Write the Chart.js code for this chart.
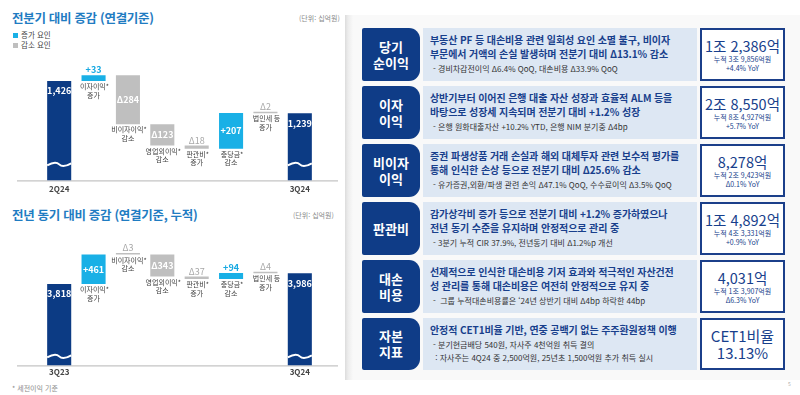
<!DOCTYPE html>
<html lang="ko">
<head>
<meta charset="utf-8">
<script src="https://cdn.jsdelivr.net/npm/chart.js@4.4.1/dist/chart.umd.min.js"></script>
<style>
  html, body { margin: 0; padding: 0; }
  body { width: 800px; height: 395px; position: relative; overflow: hidden; background: #fff;
         font-family: 'Noto Sans CJK KR', 'Noto Sans', sans-serif; color: #333; }
  .abs { position: absolute; }
  .title { font-size: 12.5px; font-weight: 700; color: #1f7cc2; white-space: nowrap; letter-spacing: -0.3px; }
  .unit { font-size: 7px; color: #8a8a8a; white-space: nowrap; }
  .legend { font-size: 7.5px; color: #444; line-height: 10px; }
  .legend i { display: inline-block; width: 5px; height: 5px; margin-right: 3px; vertical-align: 0px; }
  canvas { position: absolute; left: 0; }
  .panel { left: 345px; top: 15px; width: 455px; height: 365px; background: #f9f9f9;
           background-image: linear-gradient(to right, #dcdcdc 0px, #ececec 3px, #f9f9f9 8px); }
  .row { position: absolute; left: 362px; height: 53px; width: 423px; }
  .lab { position: absolute; left: 0; top: 0; width: 58px; height: 100%; background: #0f3c87;
         border-radius: 2px 11px 11px 2px; color: #fff; font-weight: 700; font-size: 13px; line-height: 16px;
         display: flex; align-items: center; justify-content: center; text-align: center; }
  .txt { position: absolute; left: 61px; top: 0; width: 274px; height: 100%; background: #dde7f3; box-sizing: border-box;
         padding: 5px 0 0 7px; white-space: nowrap; }
  .txt .m { font-size: 10px; font-weight: 700; color: #183f8c; line-height: 14px; letter-spacing: -0.1px; }
  .txt .s { font-size: 8px; color: #333; line-height: 13px; padding-left: 3px; margin-top: 1px; }
  .val { position: absolute; left: 338px; top: 0; width: 85px; height: 100%; background: #fff; border: 2px solid #1b3f8a;
         box-sizing: border-box; text-align: center; color: #183f8c; display: flex; flex-direction: column;
         justify-content: center; }
  .val .v { font-size: 14.5px; line-height: 17px; }
  .val .vs { font-size: 7px; line-height: 8.5px; margin-top: 1px; }
  .val .big { font-size: 15px; line-height: 17px; }
</style>
</head>
<body>

<div class="abs title" style="left:12px; top:8px;">전분기 대비 증감 (연결기준)</div>
<div class="abs unit" style="left:299px; top:13px;">(단위: 십억원)</div>
<div class="abs legend" style="left:13px; top:30px;"><i style="background:#19b0e6"></i>증가 요인<br><i style="background:#bfbfbf"></i>감소 요인</div>
<canvas id="qoqChart" width="340" height="148" style="top:50px;"></canvas>

<div class="abs title" style="left:12px; top:205px;">전년 동기 대비 증감 (연결기준, 누적)</div>
<div class="abs unit" style="left:293px; top:210px;">(단위: 십억원)</div>
<canvas id="yoyChart" width="340" height="151" style="top:228px;"></canvas>
<div class="abs unit" style="left:12px; top:383px;">* 세전이익 기준</div>

<div class="abs panel"></div>

<div class="row" style="top:28px;">
  <div class="lab">당기<br>순이익</div>
  <div class="txt"><div class="m">부동산 PF 등 대손비용 관련 일회성 요인 소멸 불구, 비이자<br>부문에서 거액의 손실 발생하며 전분기 대비 Δ13.1% 감소</div>
    <div class="s">- 경비차감전이익 Δ6.4% QoQ, 대손비용 Δ33.9% QoQ</div></div>
  <div class="val"><div class="v">1조 2,386억</div><div class="vs">누적 3조 9,856억원<br>+4.4% YoY</div></div>
</div>

<div class="row" style="top:86px;">
  <div class="lab">이자<br>이익</div>
  <div class="txt"><div class="m">상반기부터 이어진 은행 대출 자산 성장과 효율적 ALM 등을<br>바탕으로 성장세 지속되며 전분기 대비 +1.2% 성장</div>
    <div class="s">- 은행 원화대출자산 +10.2% YTD, 은행 NIM 분기중 Δ4bp</div></div>
  <div class="val"><div class="v">2조 8,550억</div><div class="vs">누적 8조 4,927억원<br>+5.7% YoY</div></div>
</div>

<div class="row" style="top:144px;">
  <div class="lab">비이자<br>이익</div>
  <div class="txt"><div class="m">증권 파생상품 거래 손실과 해외 대체투자 관련 보수적 평가를<br>통해 인식한 손상 등으로 전분기 대비 Δ25.6% 감소</div>
    <div class="s">- 유가증권,외환/파생 관련 손익 Δ47.1% QoQ, 수수료이익 Δ3.5% QoQ</div></div>
  <div class="val"><div class="v">8,278억</div><div class="vs">누적 2조 9,423억원<br>Δ0.1% YoY</div></div>
</div>

<div class="row" style="top:202px;">
  <div class="lab">판관비</div>
  <div class="txt"><div class="m">감가상각비 증가 등으로 전분기 대비 +1.2% 증가하였으나<br>전년 동기 수준을 유지하며 안정적으로 관리 중</div>
    <div class="s">- 3분기 누적 CIR 37.9%, 전년동기 대비 Δ1.2%p 개선</div></div>
  <div class="val"><div class="v">1조 4,892억</div><div class="vs">누적 4조 3,331억원<br>+0.9% YoY</div></div>
</div>

<div class="row" style="top:260px;">
  <div class="lab">대손<br>비용</div>
  <div class="txt"><div class="m">선제적으로 인식한 대손비용 기저 효과와 적극적인 자산건전<br>성 관리를 통해 대손비용은 여전히 안정적으로 유지 중</div>
    <div class="s">- &nbsp;그룹 누적대손비용률은 ‘24년 상반기 대비 Δ4bp 하락한 44bp</div></div>
  <div class="val"><div class="v">4,031억</div><div class="vs">누적 1조 3,907억원<br>Δ6.3% YoY</div></div>
</div>

<div class="row" style="top:318px; height:52px;">
  <div class="lab">자본<br>지표</div>
  <div class="txt"><div class="m">안정적 CET1비율 기반, 연중 공백기 없는 주주환원정책 이행</div>
    <div class="s">- 분기현금배당 540원, 자사주 4천억원 취득 결의<br>&nbsp;: 자사주는 4Q24 중 2,500억원, 25년초 1,500억원 추가 취득 실시</div></div>
  <div class="val"><div class="big">CET1비율<br>13.13%</div></div>
</div>

<div class="abs" style="left:788px; top:380px; font-size:5px; color:#aaa;">5</div>

<script>
// 전분기 대비 (십억원)
const qoqCategories = ['2Q24', '이자이익*', '비이자이익*', '영업외이익*', '판관비*', '충당금*', '법인세 등', '3Q24'];
const qoqNotes = ['', '증가', '감소', '감소', '증가', '감소', '증가', ''];
const qoqValues = [1426, 33, -284, -123, -18, 207, -2, 1239];

// 전년 동기 대비, 누적 (십억원)
const yoyCategories = ['3Q23', '이자이익*', '비이자이익*', '영업외이익*', '판관비*', '충당금*', '법인세 등', '3Q24'];
const yoyNotes = ['', '증가', '감소', '감소', '증가', '감소', '증가', ''];
const yoyValues = [3818, 461, -3, -343, -37, 94, -4, 3986];

const NAVY = '#0c3b84';
const CYAN = '#19b0e6';
const GRAY = '#bfbfbf';
const FONT = "'Noto Sans CJK KR', 'Noto Sans', sans-serif";

// floating ranges for a waterfall, totals start at the (broken) axis bottom
function waterfall(values, axisMin) {
  const out = [[axisMin, values[0]]];
  let run = values[0];
  for (let i = 1; i < values.length - 1; i++) {
    const start = run;
    run += values[i];
    out.push([Math.min(start, run), Math.max(start, run)]);
  }
  out.push([axisMin, values[values.length - 1]]);
  return out;
}

function fmt(v, i, n) {
  if (i === 0 || i === n - 1) return v.toLocaleString('en-US');
  return v > 0 ? '+' + v : 'Δ' + Math.abs(v);
}

// labels, notes, broken-axis waves and the base line
const waterfallPlugin = {
  id: 'waterfall',
  beforeDatasetsDraw(chart, args, opts) {
    const { ctx, chartArea } = chart;
    ctx.save();
    ctx.strokeStyle = '#c4c4c4';
    ctx.lineWidth = 1.2;
    ctx.beginPath();
    ctx.moveTo(17, chartArea.bottom + 0.5);
    ctx.lineTo(338, chartArea.bottom + 0.5);
    ctx.stroke();
    ctx.restore();
  },
  afterDatasetsDraw(chart, args, opts) {
    const { ctx } = chart;
    const values = opts.values;
    const notes = opts.notes;
    const cats = chart.data.labels;
    const n = values.length;
    const bars = chart.getDatasetMeta(0).data;
    ctx.save();
    ctx.textAlign = 'center';
    bars.forEach((bar, i) => {
      const top = Math.min(bar.y, bar.base);
      const bottom = Math.max(bar.y, bar.base);
      const h = bottom - top;
      const text = fmt(values[i], i, n);
      const total = i === 0 || i === n - 1;
      if (total) {
        // wave break
        const l = bar.x - bar.width / 2, r = bar.x + bar.width / 2, w = bar.width;
        const y = bottom - opts.waveOffset;
        ctx.strokeStyle = '#fff';
        ctx.lineWidth = 2;
        ctx.beginPath();
        ctx.moveTo(l, y + 1);
        ctx.bezierCurveTo(l + w * 0.25, y - 2.5, l + w * 0.4, y - 2.5, l + w * 0.5, y);
        ctx.bezierCurveTo(l + w * 0.6, y + 2.5, l + w * 0.75, y + 2.5, r, y - 1);
        ctx.stroke();
        ctx.fillStyle = '#fff';
        ctx.font = 'bold 9px ' + FONT;
        ctx.textBaseline = 'middle';
        ctx.fillText(text, bar.x, top + 10);
        return;
      }
      if (h >= 15) {
        ctx.fillStyle = '#fff';
        ctx.font = 'bold 9px ' + FONT;
        ctx.textBaseline = 'middle';
        ctx.fillText(text, bar.x, (top + bottom) / 2);
      } else {
        const pos = values[i] > 0;
        ctx.fillStyle = pos ? '#17a9e2' : '#a8a8a8';
        ctx.font = (pos ? 'bold ' : '') + '9px ' + FONT;
        ctx.textBaseline = 'alphabetic';
        ctx.fillText(text, bar.x, top - 2);
      }
      ctx.fillStyle = '#404040';
      ctx.font = '7px ' + FONT;
      ctx.textBaseline = 'middle';
      ctx.fillText(cats[i], bar.x + 1, bottom + 5.5);
      ctx.fillText(notes[i], bar.x, bottom + 14);
    });
    ctx.restore();
  }
};

function makeChart(id, cats, notes, values, yMin, yMax, tickPad, waveOffset) {
  const n = values.length;
  const colors = values.map((v, i) => (i === 0 || i === n - 1) ? NAVY : (v > 0 ? CYAN : GRAY));
  return new Chart(document.getElementById(id), {
    type: 'bar',
    data: {
      labels: cats,
      datasets: [{
        data: waterfall(values, yMin),
        backgroundColor: colors,
        barPercentage: 0.7,
        categoryPercentage: 1,
        minBarLength: 1.5,
        borderSkipped: false
      }]
    },
    options: {
      responsive: false,
      animation: false,
      layout: { padding: { left: 42, right: 23, top: 0, bottom: 0 } },
      plugins: {
        legend: { display: false },
        tooltip: { enabled: false },
        waterfall: { values: values, notes: notes, waveOffset: waveOffset }
      },
      scales: {
        x: {
          grid: { display: false, drawTicks: false },
          border: { display: false },
          ticks: {
            autoSkip: false,
            maxRotation: 0,
            padding: tickPad,
            color: '#444',
            font: { size: 8, weight: 'bold', family: FONT },
            callback: (v, i) => (i === 0 || i === n - 1) ? cats[i] : ''
          }
        },
        y: { display: false, min: yMin, max: yMax }
      }
    },
    plugins: [waterfallPlugin]
  });
}

makeChart('qoqChart', qoqCategories, qoqNotes, qoqValues, 850, 1606, 4, 16);
makeChart('yoyChart', yoyCategories, yoyNotes, yoyValues, 2550, 4690, 2, 9);
</script>
</body>
</html>
